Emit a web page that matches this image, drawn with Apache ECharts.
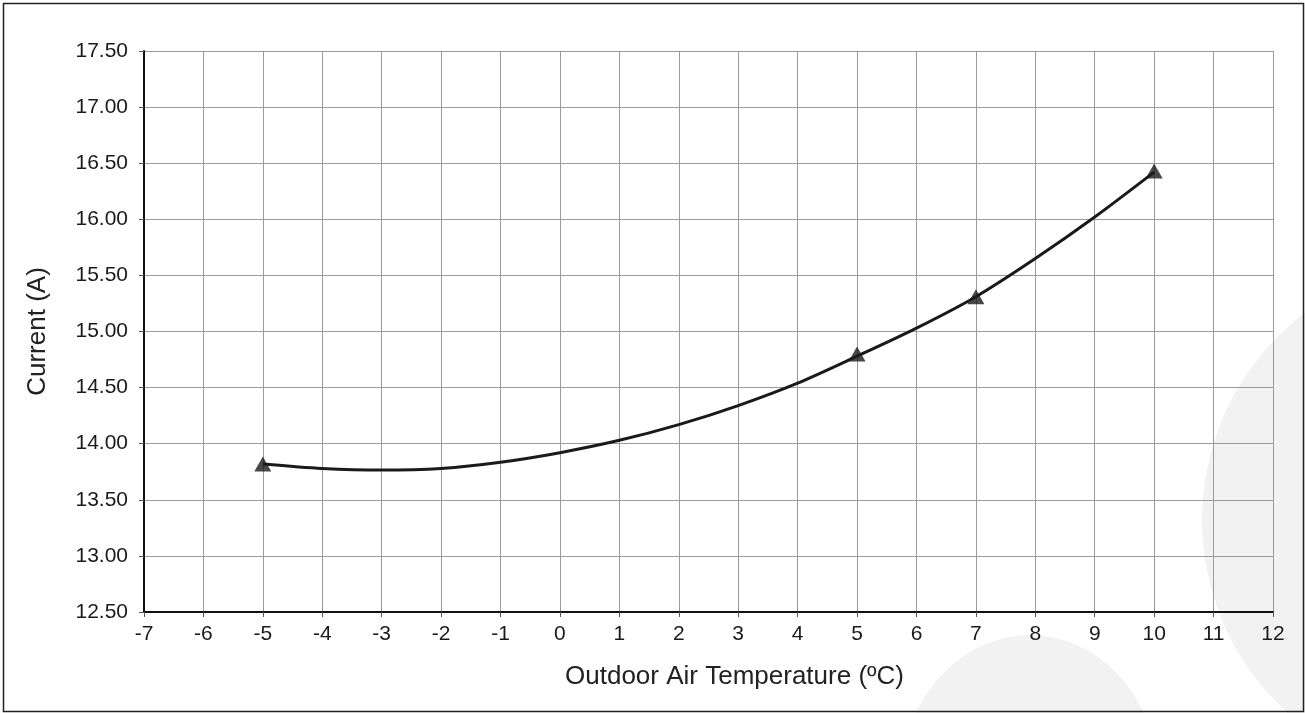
<!DOCTYPE html>
<html>
<head>
<meta charset="utf-8">
<script src="https://cdn.jsdelivr.net/npm/echarts@6/dist/echarts.min.js"></script>
<style>
html,body{margin:0;padding:0;background:#fff;}
#chart{width:1305px;height:713px;}
</style>
</head>
<body>
<div id="chart"></div>
<script>
// Measured points (triangle markers)
const pointTemps = [-5, 5, 7, 10];
const pointCurrents = [13.82, 14.80, 15.31, 16.43];
// Trend curve, values at each degree
const curveTemps = [-5, -4, -3, -2, -1, 0, 1, 2, 3, 4, 5, 6, 7, 8, 9, 10];
const curveCurrents = [13.82, 13.78, 13.765, 13.78, 13.835, 13.92, 14.03, 14.17, 14.34, 14.54, 14.78, 15.03, 15.31, 15.65, 16.02, 16.42];
const xAxisTitle = 'Outdoor Air Temperature (ºC)';
const yAxisTitle = 'Current (A)';

const chart = echarts.init(document.getElementById('chart'), null, {renderer: 'canvas'});
const FONT = 'Liberation Sans, Arial, sans-serif';
chart.setOption({
  animation: false,
  backgroundColor: '#fff',
  graphic: [
    {type: 'circle', z: -100, shape: {cx: 1462, cy: 520, r: 260}, style: {fill: '#f2f2f2'}, silent: true},
    {type: 'ellipse', z: -100, shape: {cx: 1030, cy: 785, rx: 130, ry: 150}, style: {fill: '#f2f2f2'}, silent: true},
    {type: 'rect', z: 100, shape: {x: 3.5, y: 3.5, width: 1300, height: 708}, style: {fill: 'none', stroke: '#222', lineWidth: 1.5}, silent: true}
  ],
  grid: {left: 144, right: 32, top: 51, bottom: 101, containLabel: false},
  xAxis: {
    type: 'value', min: -7, max: 12, interval: 1,
    name: xAxisTitle, nameLocation: 'middle', nameGap: 52,
    nameTextStyle: {fontFamily: FONT, fontSize: 26, color: '#222', padding: [0, 0, 0, 52]},
    axisLine: {show: true, onZero: false, lineStyle: {color: '#111', width: 2}},
    axisTick: {show: true, length: 5, lineStyle: {color: '#555', width: 1}},
    axisLabel: {fontFamily: FONT, fontSize: 21, color: '#1a1a1a', margin: 12},
    splitLine: {show: true, lineStyle: {color: '#9a9a9a', width: 1}}
  },
  yAxis: {
    type: 'value', min: 12.5, max: 17.5, interval: 0.5,
    name: yAxisTitle, nameLocation: 'middle', nameGap: 93, nameRotate: 90,
    nameTextStyle: {fontFamily: FONT, fontSize: 26, color: '#222'},
    axisLine: {show: true, onZero: false, lineStyle: {color: '#111', width: 2}},
    axisTick: {show: true, length: 5, lineStyle: {color: '#555', width: 1}},
    axisLabel: {fontFamily: FONT, fontSize: 21, color: '#1a1a1a', margin: 16,
      formatter: v => v.toFixed(2)},
    splitLine: {show: true, lineStyle: {color: '#9a9a9a', width: 1}}
  },
  series: [
    {
      type: 'line', name: 'trend',
      data: curveTemps.map((t, i) => [t, curveCurrents[i]]),
      smooth: 0.3, showSymbol: false, symbol: 'none',
      lineStyle: {color: '#1a1a1a', width: 3}, z: 3
    },
    {
      type: 'scatter', name: 'points',
      data: pointTemps.map((t, i) => [t, pointCurrents[i]]),
      symbol: 'triangle', symbolSize: [17, 15],
      itemStyle: {color: '#1a1a1a'}, z: 4
    }
  ]
});
</script>
</body>
</html>
